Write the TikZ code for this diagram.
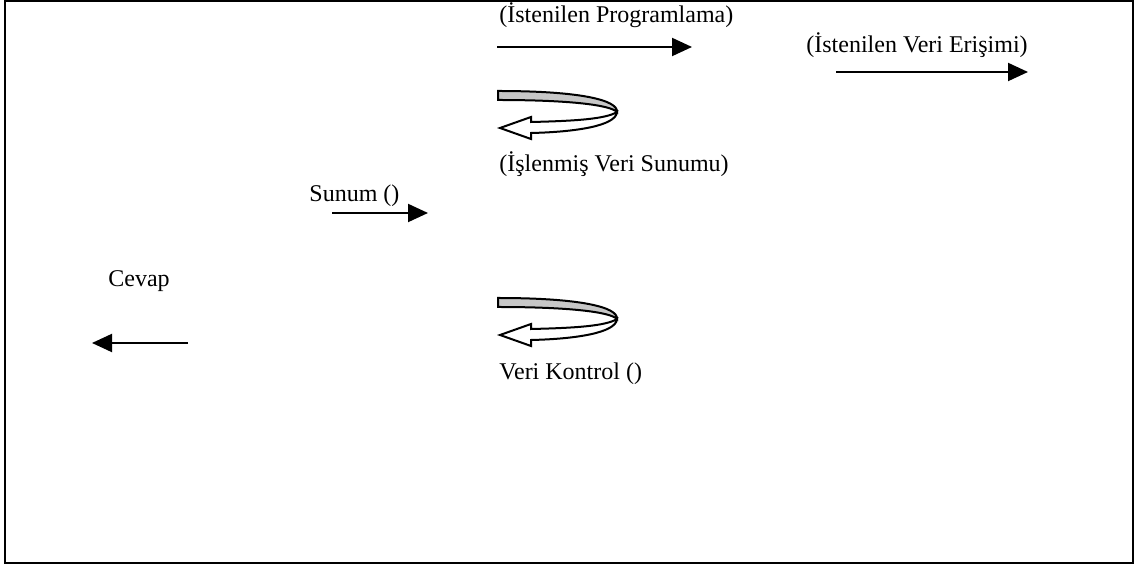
\documentclass[tikz,border=0pt]{standalone}
\usepackage{fontspec}
\setmainfont{Liberation Serif}
\usetikzlibrary{arrows.meta}
\begin{document}
\begin{tikzpicture}[x=0.5pt,y=-0.5pt,
  lbl/.style={anchor=base west,inner sep=0pt,font=\fontsize{12}{14}\selectfont},
  msg/.style={line width=1pt,-{Triangle[length=10pt,width=9pt]}},
  band/.style={draw=black,line width=1pt,line join=miter,fill=black!22},
  ret/.style={draw=black,line width=1pt,line join=miter,fill=white}]
\useasboundingbox (0,0) rectangle (1138,565);
\draw[line width=1pt] (5,1) rectangle (1133,563);

% labels
\node[lbl] (tprog) at (499,23) {(İstenilen Programlama)};
\node[lbl] (tveri) at (806,53) {(İstenilen Veri Erişimi)};
\node[lbl] (tsun)  at (499,172) {(İşlenmiş Veri Sunumu)};
\node[lbl] (tsunum) at (309,202) {Sunum ()};
\node[lbl] (tcev) at (108,287) {Cevap};
\node[lbl] (tkon) at (499,380) {Veri Kontrol ()};

% message arrows
\coordinate (p1) at (497,47);  \coordinate (p2) at (692,47);
\coordinate (v1) at (836,72);  \coordinate (v2) at (1028,72);
\coordinate (s1) at (332,213); \coordinate (s2) at (428,213);
\coordinate (c1) at (188,343); \coordinate (c2) at (92,343);
\draw[msg] (p1) -- (p2);
\draw[msg] (v1) -- (v2);
\draw[msg] (s1) -- (s2);
\draw[msg] (c1) -- (c2);

% self-call U-turn arrows
\foreach \dy in {0,207} {
  \begin{scope}[yshift=-\dy*0.5pt]
    \path[ret] (617,112) .. controls (616,126) and (575,132) .. (531,133)
      -- (531,139) -- (500,128) -- (531,117) -- (531,122)
      .. controls (575,121) and (606,119) .. (617,112) -- cycle;
    \path[band] (498,91) .. controls (580,91) and (618,100) .. (617,112)
      .. controls (610,105) and (570,100) .. (498,100) -- cycle;
  \end{scope}
}
\end{tikzpicture}
\end{document}
